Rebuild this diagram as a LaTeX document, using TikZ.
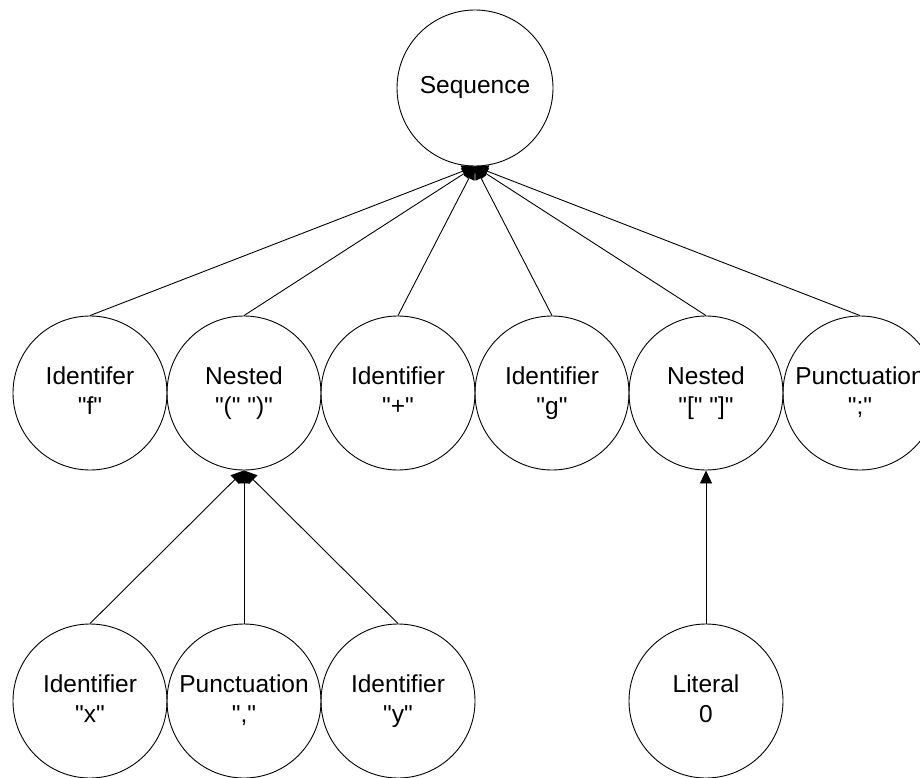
\documentclass[tikz,border=0pt]{standalone}
\usepackage{fontspec}
\setmainfont{Liberation Sans}[Ligatures=TeXOff]
\usetikzlibrary{arrows.meta}
\newcommand\lnstrut{\rule[-6pt]{0pt}{24pt}}
\begin{document}
\begin{tikzpicture}[x=1pt,y=-1pt,
  tnode/.style={circle,draw,line width=0.9pt,minimum size=154pt,inner sep=0pt,align=center,
    font=\fontsize{24.5}{30}\selectfont},
  seqnode/.style={tnode,minimum size=156pt},
  edge/.style={line width=0.9pt,-{Triangle[length=13pt,width=12pt]}}]
\useasboundingbox (0,0) rectangle (920,778);
\clip (0,0) rectangle (920,778);
\node[seqnode] (seq) at (475,88) {Sequence\lnstrut};
\node[tnode] (f) at (90,393) {Identifer\lnstrut\\"f"\lnstrut};
\node[tnode] (n1) at (244,393) {Nested\lnstrut\\"(" ")"\lnstrut};
\node[tnode] (plus) at (398,393) {Identifier\lnstrut\\"+"\lnstrut};
\node[tnode] (g) at (552,393) {Identifier\lnstrut\\"g"\lnstrut};
\node[tnode] (n2) at (706,393) {Nested\lnstrut\\"[" "]"\lnstrut};
\node[tnode] (semi) at (860,393) {Punctuation\lnstrut\\";"\lnstrut};
\node[tnode] (x) at (90,701) {Identifier\lnstrut\\"x"\lnstrut};
\node[tnode] (comma) at (244,701) {Punctuation\lnstrut\\","\lnstrut};
\node[tnode] (y) at (398,701) {Identifier\lnstrut\\"y"\lnstrut};
\node[tnode] (lit) at (706,701) {Literal\lnstrut\\0\lnstrut};
\foreach \c in {f,n1,plus,g,n2,semi} \draw[edge] (\c.north) -- (seq.south);
\foreach \c in {x,comma,y} \draw[edge] (\c.north) -- (n1.south);
\draw[edge] (lit.north) -- (n2.south);
\end{tikzpicture}
\end{document}
